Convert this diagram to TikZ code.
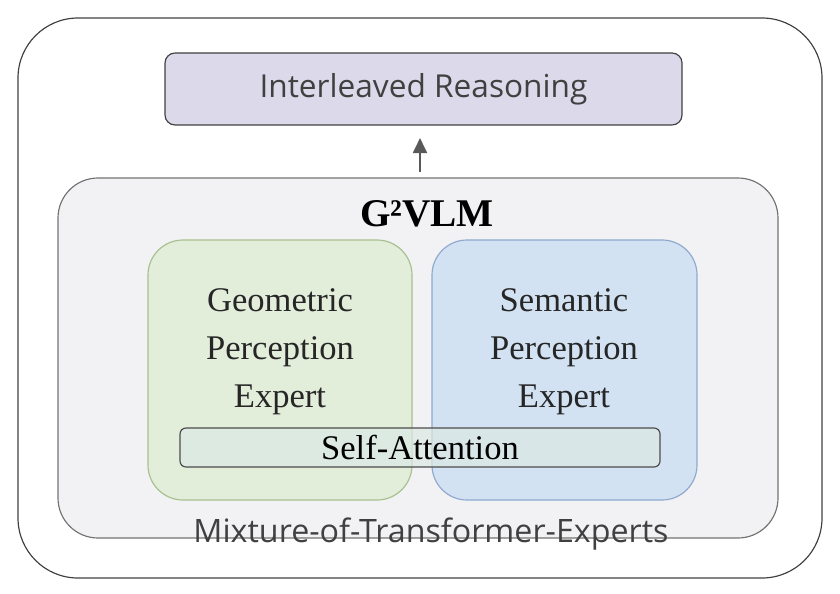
\documentclass[tikz,border=0pt]{standalone}
\usepackage{fontspec}
\usetikzlibrary{arrows.meta}
\setmainfont{Liberation Serif}
\newfontfamily\osans{Open Sans}
\begin{document}
\begin{tikzpicture}[x=0.03cm,y=-0.03cm,
 box/.style={draw, line width=1pt},
 sf/.style={font=\osans\fontsize{27.5}{32}\selectfont, text=black!75},
 rm/.style={font=\fontsize{29.5}{41}\selectfont, align=center, text=black!85}]
\definecolor{lav}{HTML}{DCDAEA}
\definecolor{gbg}{HTML}{F2F2F4}
\definecolor{grn}{HTML}{E2EDDA}
\definecolor{grnb}{HTML}{A8C090}
\definecolor{blu}{HTML}{D3E2F2}
\definecolor{blub}{HTML}{8FA9CF}
\useasboundingbox (0,0) rectangle (840,594);
\node[box, draw=black!75, rounded corners=60*0.03cm, minimum width=804*0.03cm, minimum height=560*0.03cm] (outer) at (420,298) {};
\node[box, draw=black!75, fill=lav, rounded corners=10*0.03cm, minimum width=517*0.03cm, minimum height=72*0.03cm, sf, font=\osans\fontsize{27}{32}\selectfont] (ir) at (423.5,89) {Interleaved Reasoning};
\node[box, draw=black!55, fill=gbg, rounded corners=40*0.03cm, minimum width=720*0.03cm, minimum height=360*0.03cm] (g) at (418,358) {};
\node[font=\bfseries\fontsize{33.5}{38}\selectfont] (t) at (427,214) {G²VLM};
\node[box, draw=grnb, fill=grn, rounded corners=35*0.03cm, minimum width=264*0.03cm, minimum height=260*0.03cm] (geo) at (280,370) {};
\node[box, draw=blub, fill=blu, rounded corners=35*0.03cm, minimum width=265*0.03cm, minimum height=260*0.03cm] (sem) at (564.5,370) {};
\node[rm] (geot) at (280,352) {Geometric\\Perception\\Expert};
\node[rm] (semt) at (564,352) {Semantic\\Perception\\Expert};
\node[box, draw=black!70, fill=grn!60!blu, fill opacity=0.7, text opacity=1, rounded corners=6*0.03cm, minimum width=480*0.03cm, minimum height=39*0.03cm, font=\fontsize{29.5}{32}\selectfont] (sa) at (420,447.5) {Self-Attention};
\node[sf] (mix) at (431,534) {Mixture-of-Transformer-Experts};
\coordinate (a0) at (420,172);
\coordinate (a1) at (420,138);
\draw[black!65, line width=2pt, -{Triangle[length=13pt,width=12pt]}] (a0) -- (a1);
\end{tikzpicture}
\end{document}
